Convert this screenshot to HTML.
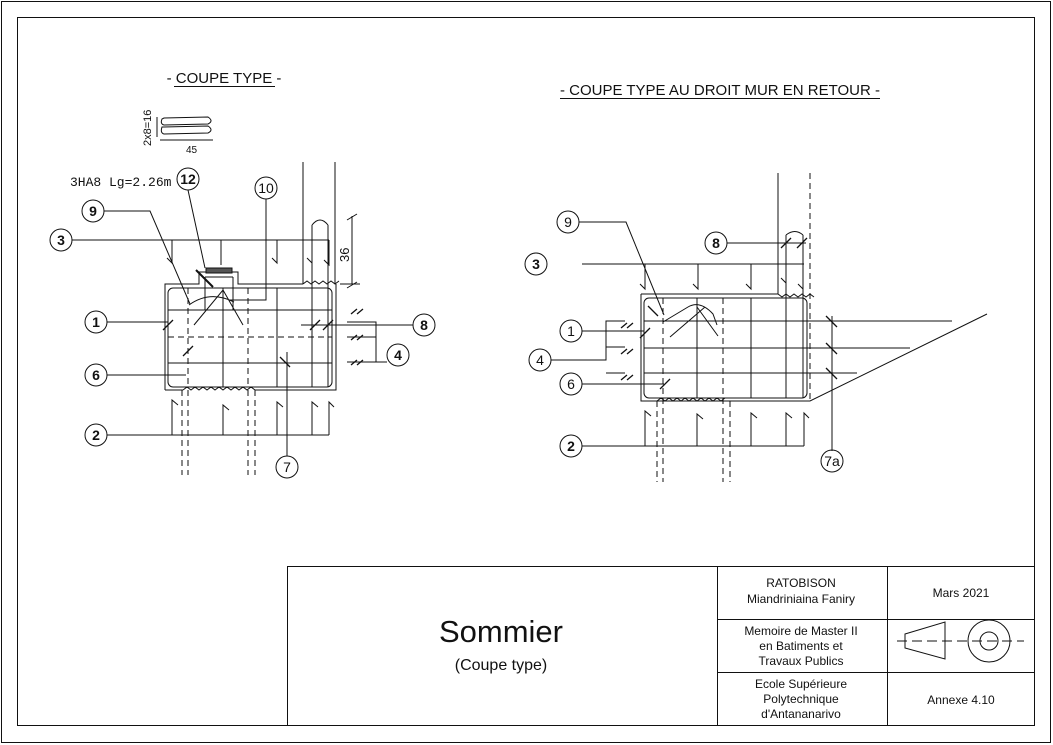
<!DOCTYPE html>
<html><head><meta charset="utf-8"><style>
body{margin:0;background:#fff}
svg{display:block}
text{font-family:"Liberation Sans",sans-serif;fill:#111}
</style></head><body>
<svg width="1053" height="745" viewBox="0 0 1053 745" xmlns="http://www.w3.org/2000/svg">
<g fill="none" stroke="#111" stroke-width="1">
<rect x="1.5" y="1.5" width="1049" height="741"/>
<rect x="17.5" y="17.5" width="1017" height="708"/>
<!-- title block -->
<rect x="287.5" y="566.5" width="747" height="159"/>
<line x1="717.5" y1="566" x2="717.5" y2="726"/>
<line x1="887.5" y1="566" x2="887.5" y2="726"/>
<line x1="717" y1="619.5" x2="1035" y2="619.5"/>
<line x1="717" y1="672.5" x2="1035" y2="672.5"/>
<polygon points="905,634 945,622 945,659 905,648"/>
<line x1="897" y1="641" x2="1024" y2="641" stroke-dasharray="10,5"/>
<circle cx="989" cy="641" r="21"/><circle cx="989" cy="641" r="9"/>
</g>
<text x="801" y="587" font-size="12" text-anchor="middle">RATOBISON</text>
<text x="801" y="603" font-size="12" text-anchor="middle">Miandriniaina Faniry</text>
<text x="961" y="597" font-size="12" text-anchor="middle">Mars 2021</text>
<text x="801" y="635" font-size="12" text-anchor="middle">Memoire de Master II</text>
<text x="801" y="650" font-size="12" text-anchor="middle">en Batiments et</text>
<text x="801" y="665" font-size="12" text-anchor="middle">Travaux Publics</text>
<text x="801" y="688" font-size="12" text-anchor="middle">Ecole Supérieure</text>
<text x="801" y="703" font-size="12" text-anchor="middle">Polytechnique</text>
<text x="801" y="718" font-size="12" text-anchor="middle">d'Antananarivo</text>
<text x="961" y="704" font-size="12" text-anchor="middle">Annexe 4.10</text>
<text x="501" y="642" font-size="31" text-anchor="middle">Sommier</text>
<text x="501" y="670" font-size="16" text-anchor="middle">(Coupe type)</text>

<!-- titles -->
<text x="224" y="83" font-size="15" text-anchor="middle">- COUPE TYPE -</text>
<line x1="174" y1="86.5" x2="275" y2="86.5" stroke="#111"/>
<text x="720" y="95" font-size="15" text-anchor="middle">- COUPE TYPE AU DROIT MUR EN RETOUR -</text>
<line x1="560" y1="98.5" x2="880" y2="98.5" stroke="#111"/>

<!-- LEFT DRAWING -->
<g fill="none" stroke="#111" stroke-width="1">
<path d="M162,119 Q160,124 164,125 L208,124 Q214,121 208,117 L164,118 Z"/>
<path d="M162,127 Q160,133 164,134 L208,133 Q214,130 208,126 L164,127 Z"/>
<line x1="157" y1="117" x2="157" y2="137"/><line x1="160" y1="140" x2="213" y2="140"/>
<path d="M303,162 V284 M335,162 V284"/>
<path d="M165,390 V284 H199 V272 H238 V284 H303 M303,284 l4,-3 4,3 4,-3 4,3 4,-3 4,3 4,-3 4,3 4,-3 M336,284 V390 H255 M165,390 H183"/>
<path d="M183,390 l4,-3 4,3 4,-3 4,3 4,-3 4,3 4,-3 4,3 4,-3 4,3 4,-3 4,3 4,-3 4,3 4,-3 4,3 4,-3 4,3"/>
<rect x="168" y="288" width="164" height="99" rx="5"/>
<path d="M168,310 H332 M168,363 H332 M223,288 V387 M277,288 V387 M312,225 V387 M328,225 V387 M312,225 Q320,215 328,225"/>
<path d="M168,337 H332 M188,288 V387 M248,288 V387 M182,390 V475 M188,390 V475 M248,390 V475 M255,390 V475" stroke-dasharray="6,4"/>
<path d="M205,277 H233 M205,277 V310 M233,277 V310 M194,325 L223,290 L243,325 M189,305 Q210,290 234,302"/>
<rect x="206" y="268" width="26" height="5" fill="#555"/>
<line x1="196" y1="270" x2="213" y2="287" stroke-width="2"/>
<path d="M72,240 H329 M172,240 V263 l-5,-5 M221,240 V265 M277,240 V263 l-5,-5 M329,240 V265 l-5,-5 M312,263 l-5,-5"/>
<path d="M107,435 H329 M172,435 V400 l6,5 M223,435 V405 l6,5 M277,435 V402 l6,5 M312,435 V402 l6,5 M329,435 V402 l5,5"/>
<path d="M107,322 H168 M107,375 H186 M104,211 H150 L190,304 M266,199 V300 H230 M301,325 H413 M347,322 H376 V362 M347,337 H376 M347,362 H387 M287,456 V352 M188,190 L205,268"/>
<circle cx="61" cy="240" r="11"/><circle cx="93" cy="211" r="11"/><circle cx="188" cy="179" r="11"/><circle cx="266" cy="188" r="11"/>
<circle cx="96" cy="322" r="11"/><circle cx="96" cy="375" r="11"/><circle cx="96" cy="435" r="11"/>
<circle cx="424" cy="325" r="11"/><circle cx="398" cy="355" r="11"/><circle cx="287" cy="467" r="11"/>
<path d="M352,216 V284 M347,220 l10,-6 M347,288 l10,-6 M340,284 H360"/>
<g stroke-width="1.3"><path d="M163,330 l10,-10 M183,356 l10,-10 M280,357 l10,10 M310,330 l10,-10 M323,330 l10,-10 M351,314 l6,-5 M357,314 l6,-5 M351,340 l6,-5 M357,340 l6,-5 M351,365 l6,-5 M357,365 l6,-5"/></g>
</g>
<text x="70" y="186" font-size="13" style="font-family:'Liberation Mono',monospace">3HA8 Lg=2.26m</text>
<text x="186" y="153" font-size="10">45</text>
<text x="151" y="146" font-size="11" transform="rotate(-90 151 146)">2x8=16</text>
<text x="349" y="262" font-size="13" transform="rotate(-90 349 262)">36</text>
<g font-size="14" font-weight="bold" text-anchor="middle">
<text x="61" y="245">3</text><text x="93" y="216">9</text><text x="188" y="184">12</text>
<text x="96" y="327">1</text><text x="96" y="380">6</text><text x="96" y="440">2</text>
<text x="424" y="330">8</text><text x="398" y="360">4</text>
</g>
<g font-size="14" text-anchor="middle"><text x="266" y="193">10</text><text x="287" y="472">7</text></g>

<!-- RIGHT DRAWING -->
<g fill="none" stroke="#111" stroke-width="1">
<path d="M778,173 V294 M641,294 H778 l4,3 4,-3 4,3 4,-3 4,3 4,-3 4,3 4,-3 4,3 M641,294 V401 H810 L987,314 M641,401 H657"/>
<path d="M657,401 l4,-3 4,3 4,-3 4,3 4,-3 4,3 4,-3 4,3 4,-3 4,3 4,-3 4,3 4,-3 4,3 4,-3 4,3 4,-3"/>
<path d="M810,173 V401" stroke-dasharray="6,4"/>
<rect x="644" y="298" width="163" height="100" rx="5"/>
<path d="M644,321 H952 M644,348 H910 M644,373 H857 M697,298 V398 M751,298 V398 M786,235 V398 M803,235 V398 M786,235 Q795,228 803,235"/>
<path d="M663,298 V482 M657,401 V482 M723,298 V482 M730,401 V482" stroke-dasharray="6,4"/>
<path d="M663,322 L688,307 Q700,300 713,314 L717,325 M670,337 L705,307 M697,307 L718,336"/>
<path d="M582,264 H804 M645,264 V289 l-5,-5 M698,264 V289 l-5,-5 M751,264 V289 l-5,-5 M803,264 V289 l-5,-5 M786,283 l-5,-5"/>
<path d="M582,446 H804 M645,446 V411 l6,5 M697,446 V414 l6,5 M751,446 V413 l6,5 M786,446 V413 l6,5 M804,446 V413 l5,5"/>
<path d="M579,222 H626 L664,315 M727,243 H806 M582,331 H644 M551,360 H606 V321 H625 M606,347 H625 M606,373 H625 M582,384 H664 M832,316 V451"/>
<circle cx="568" cy="222" r="11"/><circle cx="716" cy="243" r="11"/><circle cx="536" cy="264" r="11"/>
<circle cx="571" cy="331" r="11"/><circle cx="540" cy="360" r="11"/><circle cx="571" cy="384" r="11"/>
<circle cx="571" cy="446" r="11"/><circle cx="832" cy="461" r="11"/>
<g stroke-width="1.3"><path d="M781,248 l10,-10 M797,248 l10,-10 M640,338 l10,-10 M660,389 l10,-10 M826,316 l11,11 M826,343 l11,11 M826,368 l11,11 M621,328 l6,-5 M627,328 l6,-5 M621,354 l6,-5 M627,354 l6,-5 M621,380 l6,-5 M627,380 l6,-5 M648,306 l10,10"/></g>
</g>
<g font-size="14" font-weight="bold" text-anchor="middle">
<text x="716" y="248">8</text><text x="536" y="269">3</text><text x="571" y="451">2</text>
</g>
<g font-size="14" text-anchor="middle">
<text x="568" y="227">9</text><text x="571" y="336">1</text><text x="540" y="365">4</text><text x="571" y="389">6</text><text x="832" y="466">7a</text>
</g>
</svg>
</body></html>
